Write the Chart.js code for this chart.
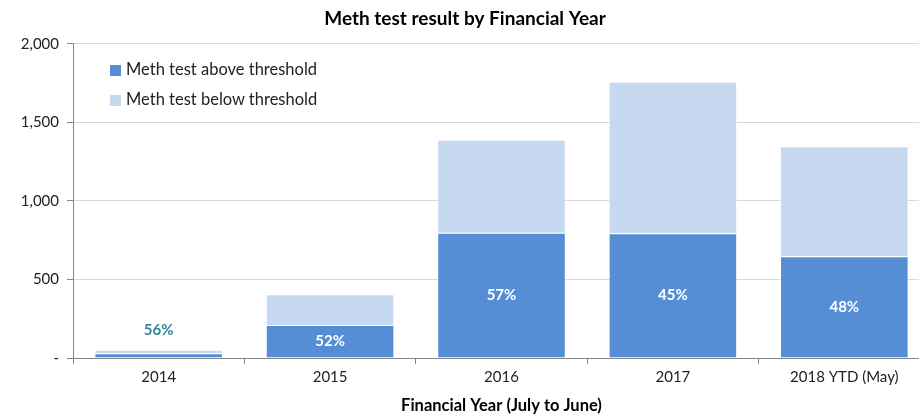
<!DOCTYPE html>
<html>
<head>
<meta charset="utf-8">
<script src="https://cdn.jsdelivr.net/npm/chart.js@4.4.1/dist/chart.umd.min.js"></script>
<style>
  body { margin: 0; overflow: hidden; background: #fff; }
  #wrap { position: absolute; left: 0; top: 0; width: 930px; height: 416px; }
  #legend { position: absolute; left: 110px; top: 58px; font-family: Lato, sans-serif; font-size: 16.5px; color: #222; }
  #legend div { height: 30px; line-height: 22px; }
  #legend span.sw { display: inline-block; width: 11px; height: 11px; margin-right: 5px; vertical-align: -1px; }
</style>
</head>
<body>
<div id="wrap"><canvas id="chart"></canvas></div>
<div id="legend"></div>
<script>
// Données
const years = ['2014', '2015', '2016', '2017', '2018 YTD (May)'];
const aboveThreshold = [30, 210, 797, 794, 648];
const belowThreshold = [23, 196, 593, 964, 700];
const pctLabels = ['56%', '52%', '57%', '45%', '48%'];
const yTicks = [0, 500, 1000, 1500, 2000];

const darkBlue = '#558ED5';
const lightBlue = '#C6D9F1';

// Etiquettes de pourcentage sur les barres
const pctPlugin = {
    id: 'pctLabels',
    afterDatasetsDraw(chart) {
        const ctx = chart.ctx;
        const above = chart.getDatasetMeta(0).data;
        const below = chart.getDatasetMeta(1).data;
        ctx.save();
        ctx.font = 'bold 15px Lato, sans-serif';
        ctx.textAlign = 'center';
        ctx.textBaseline = 'middle';
        above.forEach(function (bar, i) {
            const h = bar.base - bar.y;
            if (h > 30) {
                ctx.fillStyle = '#ffffff';
                ctx.fillText(pctLabels[i], bar.x, (bar.y + bar.base) / 2);
            } else {
                ctx.fillStyle = '#31859C';
                ctx.fillText(pctLabels[i], bar.x, below[i].y - 20);
            }
        });
        ctx.restore();
    }
};

const chart = new Chart(document.getElementById('chart'), {
    type: 'bar',
    data: {
        labels: years,
        datasets: [{
            label: 'Meth test above threshold',
            data: aboveThreshold,
            backgroundColor: darkBlue,
            borderColor: 'rgba(255,255,255,0.25)',
            borderWidth: 1,
            borderSkipped: 'bottom'
        }, {
            label: 'Meth test below threshold',
            data: belowThreshold,
            backgroundColor: lightBlue,
            borderColor: 'rgba(255,255,255,0.5)',
            borderWidth: 1,
            borderSkipped: 'bottom'
        }]
    },
    options: {
        responsive: true,
        maintainAspectRatio: false,
        animation: false,
        layout: { padding: { left: 0, right: 0, top: 0, bottom: 0 } },
        datasets: { bar: { barPercentage: 0.75, categoryPercentage: 1 } },
        plugins: {
            legend: { display: false },
            tooltip: { enabled: false },
            title: {
                display: true,
                text: 'Meth test result by Financial Year',
                color: '#000',
                font: { family: 'Lato, sans-serif', size: 19, weight: 'bold' },
                padding: { top: 7, bottom: 14 }
            }
        },
        scales: {
            x: {
                stacked: true,
                grid: { display: true, drawOnChartArea: false, drawTicks: true, tickLength: 6, tickColor: '#868686', offset: true },
                border: { color: '#868686' },
                ticks: { color: '#222', font: { family: 'Lato, sans-serif', size: 15 }, padding: 4 },
                title: {
                    display: true,
                    text: 'Financial Year (July to June)',
                    color: '#000',
                    font: { family: 'Lato, sans-serif', size: 16.5, weight: 'bold' },
                    padding: { top: 2, bottom: 0 }
                },
                afterFit: function (scale) { scale.height = 58; }
            },
            y: {
                stacked: true,
                min: 0,
                max: 2000,
                afterBuildTicks: function (scale) { scale.ticks = yTicks.map(v => ({ value: v })); },
                grid: { color: '#D9D9D9', tickColor: '#868686', tickLength: 6 },
                border: { color: '#868686' },
                ticks: {
                    color: '#222',
                    font: { family: 'Lato, sans-serif', size: 15 },
                    padding: 8,
                    callback: function (v) { return v === 0 ? '-' : v.toLocaleString('en-US'); }
                },
                afterFit: function (scale) { scale.width = 73; }
            }
        }
    },
    plugins: [pctPlugin]
});

// Légende HTML placée dans la zone du graphique
document.getElementById('legend').innerHTML = chart.data.datasets.map(function (ds) {
    return '<div><span class="sw" style="background:' + ds.backgroundColor + '"></span>' + ds.label + '</div>';
}).join('');
</script>
</body>
</html>
